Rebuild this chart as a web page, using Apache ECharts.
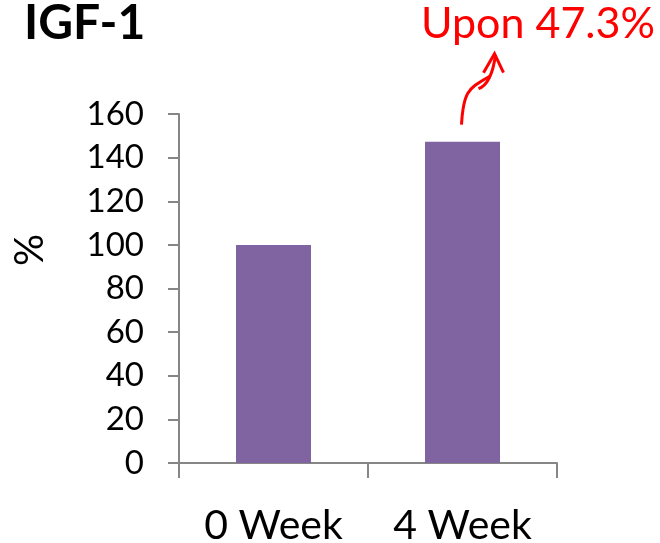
<!DOCTYPE html>
<html>
<head>
<meta charset="utf-8">
<script src="https://cdn.jsdelivr.net/npm/echarts@6/dist/echarts.min.js"></script>
<style>
  html, body { margin: 0; padding: 0; background: #fff; }
  #chart { width: 660px; height: 543px; }
</style>
</head>
<body>
<div id="chart"></div>
<script>
// IGF-1 level relative to baseline (%)
const categories = ['0 Week', '4 Week'];
const igfValues = [100, 147.3];
const yTicks = { min: 0, max: 160, interval: 20 };
const chartTitle = 'IGF-1';
const yAxisTitle = '%';
const changeNote = 'Upon 47.3%';

const FONT = 'Lato, "Open Sans", sans-serif';
const AXIS_GREY = '#868686';

const chart = echarts.init(document.getElementById('chart'), null, { renderer: 'canvas' });

chart.setOption({
  animation: false,
  backgroundColor: '#ffffff',
  title: {
    text: chartTitle,
    left: 19,
    top: -5,
    textStyle: { fontFamily: FONT, fontWeight: 'bold', fontSize: 48, color: '#000' }
  },
  grid: { left: 179, right: 103, top: 114, bottom: 80, containLabel: false, outerBoundsMode: 'none' },
  xAxis: {
    type: 'category',
    data: categories,
    boundaryGap: true,
    axisLine: { lineStyle: { color: AXIS_GREY, width: 2 } },
    axisTick: { show: true, alignWithLabel: false, length: 15, lineStyle: { color: AXIS_GREY, width: 2 } },
    axisLabel: { fontFamily: FONT, fontSize: 41, color: '#000', margin: 42 }
  },
  yAxis: {
    type: 'value',
    min: yTicks.min,
    max: yTicks.max,
    interval: yTicks.interval,
    splitLine: { show: false },
    axisLine: { show: true, lineStyle: { color: AXIS_GREY, width: 2 } },
    axisTick: { show: true, length: 11, lineStyle: { color: AXIS_GREY, width: 2 } },
    axisLabel: { fontFamily: FONT, fontSize: 33, color: '#000', margin: 35 }
  },
  series: [{
    type: 'bar',
    data: igfValues,
    barWidth: 75,
    itemStyle: { color: '#8064A2' }
  }]
});

// Axis title and the red annotation with a hand-drawn style arrow above the 4 Week bar
const top4 = chart.convertToPixel({ xAxisIndex: 0, yAxisIndex: 0 }, [categories[1], igfValues[1]]);
const bx = top4[0] - 1;
const by = top4[1] - 17;
chart.setOption({
  graphic: [
    {
      type: 'text',
      x: 30,
      y: 250,
      rotation: Math.PI / 2,
      style: { text: yAxisTitle, fontFamily: FONT, fontSize: 40, fill: '#000', align: 'center', verticalAlign: 'middle' }
    },
    {
      type: 'text',
      left: 421,
      top: 3,
      style: { text: changeNote, fontFamily: FONT, fontSize: 43, fill: '#ff0000' }
    },
    {
      type: 'bezierCurve',
      shape: { x1: bx, y1: by, cpx1: bx + 2, cpy1: by - 36, x2: bx + 29, y2: by - 49, cpx2: bx + 8, cpy2: by - 36 },
      style: { stroke: '#ff0000', lineWidth: 3, fill: null }
    },
    {
      type: 'bezierCurve',
      shape: { x1: bx + 17, y1: by - 36, cpx1: bx + 28, cpy1: by - 40, x2: bx + 34, y2: by - 70, cpx2: bx + 32, cpy2: by - 55 },
      style: { stroke: '#ff0000', lineWidth: 3, fill: null }
    },
    {
      type: 'polyline',
      shape: { points: [[bx + 22, by - 52], [bx + 33, by - 71], [bx + 42, by - 52]] },
      style: { stroke: '#ff0000', lineWidth: 3, fill: null }
    }
  ]
});
</script>
</body>
</html>
